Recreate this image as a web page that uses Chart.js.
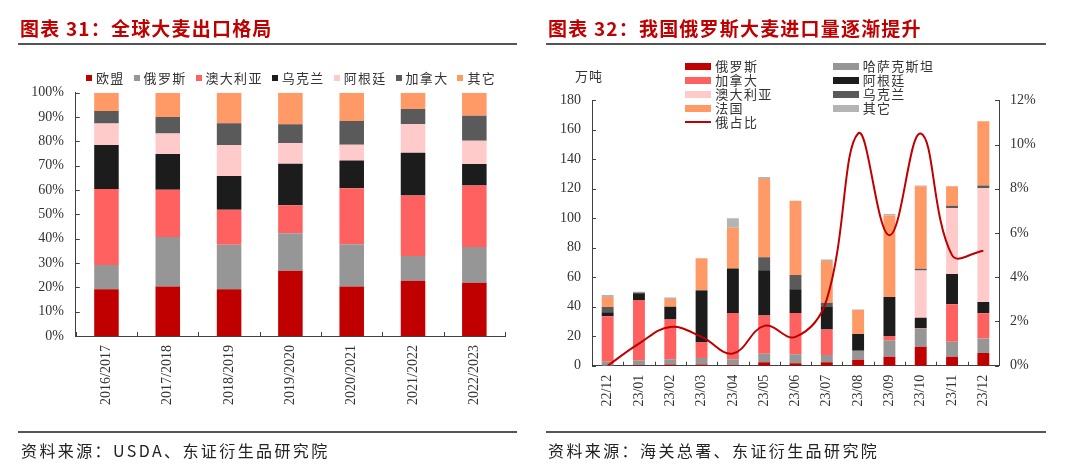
<!DOCTYPE html>
<html>
<head>
<meta charset="utf-8">
<script src="https://cdn.jsdelivr.net/npm/chart.js@4.4.0/dist/chart.umd.min.js"></script>
<style>
  body { margin: 0; background: #fff; }
  #page { position: relative; width: 1080px; height: 471px; overflow: hidden; background: #fff;
          font-family: "Noto Sans CJK SC", sans-serif; }
  canvas { position: absolute; top: 0; }
  .title { position: absolute; top: 14px; font-size: 19px; font-weight: bold; color: #c00000; letter-spacing: 1.2px; white-space: nowrap; }
  .rule { position: absolute; height: 2px; background: #555; }
  .source { position: absolute; top: 438px; font-size: 16px; color: #222; letter-spacing: 2.4px; white-space: nowrap; }
  .leg { position: absolute; font-size: 13px; color: #333; letter-spacing: 1.3px; white-space: nowrap; line-height: 14px; }
  .leg .sw { display: inline-block; vertical-align: middle; margin-right: 4px; margin-top: -2px; }
  #legL { top: 71px; left: 86px; display: flex; gap: 9px; }
  #legL .sw { width: 6px; height: 6px; }
  #legR .sw { width: 26px; height: 7px; }
  #legR .item { position: absolute; }
  #unit { position: absolute; left: 575px; top: 66px; font-size: 13px; color: #333; letter-spacing: 1px; }
</style>
</head>
<body>
<div id="page">
  <canvas id="left" width="540" height="471" style="left:0"></canvas>
  <canvas id="right" width="540" height="471" style="left:540px"></canvas>

  <div class="title" style="left:20px">图表 31：全球大麦出口格局</div>
  <div class="rule" style="left:18px;top:43px;width:499px"></div>
  <div class="title" style="left:548px">图表 32：我国俄罗斯大麦进口量逐渐提升</div>
  <div class="rule" style="left:546px;top:43px;width:500px"></div>

  <div id="legL" class="leg"></div>
  <div id="legR" class="leg"></div>
  <div id="unit">万吨</div>

  <div class="rule" style="left:18px;top:431px;width:499px;height:1.5px"></div>
  <div class="source" style="left:21px">资料来源：USDA、东证衍生品研究院</div>
  <div class="rule" style="left:546px;top:431px;width:500px;height:1.5px"></div>
  <div class="source" style="left:548px">资料来源：海关总署、东证衍生品研究院</div>
</div>

<script>
// ---- 图表31 数据（%）----
const years = ['2016/2017', '2017/2018', '2018/2019', '2019/2020', '2020/2021', '2021/2022', '2022/2023'];
const euShare = [19.2, 20.3, 19.2, 26.8, 20.3, 22.7, 21.9];
const russiaShare = [10.0, 20.4, 18.3, 15.4, 17.4, 10.2, 14.7];
const australiaShare = [31.2, 19.4, 14.4, 11.5, 23.0, 24.8, 25.3];
const ukraineShare = [18.1, 14.7, 13.9, 17.1, 11.4, 17.6, 8.8];
const argentinaShare = [8.8, 8.4, 12.7, 8.5, 6.5, 11.8, 9.6];
const canadaShare = [5.2, 6.8, 8.9, 7.7, 9.8, 6.2, 10.2];
const otherShare = [7.5, 10.0, 12.6, 13.0, 11.6, 6.7, 9.5];

// ---- 图表32 数据（万吨 / %）----
const months = ['22/12', '23/01', '23/02', '23/03', '23/04', '23/05', '23/06', '23/07', '23/08', '23/09', '23/10', '23/11', '23/12'];
const impRussia = [0, 0.5, 0.8, 0.8, 0.5, 2.3, 1.6, 2.3, 4.1, 6.1, 12.9, 6.1, 8.6];
const impKazakhstan = [2.7, 3.2, 3.6, 4.4, 3.8, 5.8, 6.1, 4.9, 6.1, 11.1, 12.2, 10.2, 9.9];
const impCanada = [30.8, 40.9, 26.9, 10.9, 31.4, 26.0, 28.0, 17.4, 0, 2.9, 0.3, 25.3, 17.0];
const impArgentina = [2.7, 4.5, 8.6, 34.8, 30.3, 30.6, 16.1, 15.2, 11.3, 26.5, 7.2, 20.6, 7.7];
const impAustralia = [0, 0, 0, 0, 0, 0, 0, 0, 0, 0, 31.9, 44.8, 77.1];
const impUkraine = [3.6, 0.5, 0, 0.4, 0, 8.8, 9.7, 2.9, 0, 0, 1.2, 1.5, 2.0];
const impFrance = [6.8, 0, 5.4, 21.5, 27.6, 53.1, 50.4, 28.3, 16.3, 55.2, 56.0, 13.2, 43.5];
const impOther = [1.3, 0.5, 0.9, 0, 6.4, 1.4, 0, 1.1, 0.4, 1.1, 0.5, 0, 0];
const russiaRatio = [0, 1.0, 1.75, 1.3, 0.55, 1.8, 1.3, 3.0, 10.5, 5.9, 10.5, 5.0, 5.2];

const C = {
  red: '#c00000', gray: '#969696', salmon: '#ff6161', black: '#1c1c1c',
  pink: '#ffcaca', dark: '#5a5a5a', orange: '#ff9966', light: '#b4b4b4'
};
const axisColor = '#404040';
const serif = 'Liberation Serif';

// 内向刻度线
const innerTicks = {
  id: 'innerTicks',
  afterDraw(chart) {
    const ctx = chart.ctx, a = chart.chartArea, s = chart.scales;
    ctx.save();
    ctx.strokeStyle = axisColor;
    ctx.lineWidth = 1;
    ctx.beginPath();
    s.y.ticks.forEach((t, i) => {
      const py = Math.round(s.y.getPixelForTick(i)) + 0.5;
      ctx.moveTo(a.left, py); ctx.lineTo(a.left + 4, py);
    });
    if (s.y1) {
      s.y1.ticks.forEach((t, i) => {
        const py = Math.round(s.y1.getPixelForTick(i)) + 0.5;
        ctx.moveTo(a.right, py); ctx.lineTo(a.right - 4, py);
      });
    }
    const n = s.x.ticks.length;
    for (let i = 0; i <= n; i++) {
      const px = Math.round(s.x.getPixelForValue(i - 0.5)) + 0.5;
      ctx.moveTo(px, a.bottom); ctx.lineTo(px, a.bottom - 4);
    }
    ctx.stroke();
    ctx.restore();
  }
};

function bar(label, data, color) {
  return { label, data, backgroundColor: color, borderWidth: 0, order: 1 };
}

function xScale(height) {
  return {
    stacked: true,
    grid: { display: false, drawTicks: false },
    border: { color: axisColor, width: 1 },
    ticks: { font: { family: serif, size: 14 }, color: '#333', minRotation: 90, maxRotation: 90, padding: 9, autoSkip: false },
    afterFit: s => { s.height = height; }
  };
}

// ---- 左图 ----
const leftSets = [
  bar('欧盟', euShare, C.red),
  bar('俄罗斯', russiaShare, C.gray),
  bar('澳大利亚', australiaShare, C.salmon),
  bar('乌克兰', ukraineShare, C.black),
  bar('阿根廷', argentinaShare, C.pink),
  bar('加拿大', canadaShare, C.dark),
  bar('其它', otherShare, C.orange)
];

new Chart(document.getElementById('left'), {
  type: 'bar',
  data: { labels: years, datasets: leftSets },
  options: {
    responsive: false,
    animation: false,
    datasets: { bar: { categoryPercentage: 1, barPercentage: 0.4 } },
    layout: { padding: { top: 92.7, right: 35, left: 0, bottom: 0 } },
    plugins: { legend: { display: false }, tooltip: { enabled: false } },
    scales: {
      x: xScale(135),
      y: {
        stacked: true, min: 0, max: 100,
        grid: { display: false, drawTicks: false },
        border: { color: axisColor, width: 1 },
        ticks: { stepSize: 10, callback: v => v + '%', font: { family: serif, size: 14 }, color: '#333', padding: 12 },
        afterFit: s => { s.width = 75.8; }
      }
    }
  },
  plugins: [innerTicks]
});

// ---- 右图 ----
const rightSets = [
  bar('俄罗斯', impRussia, C.red),
  bar('哈萨克斯坦', impKazakhstan, C.gray),
  bar('加拿大', impCanada, C.salmon),
  bar('阿根廷', impArgentina, C.black),
  bar('澳大利亚', impAustralia, C.pink),
  bar('乌克兰', impUkraine, C.dark),
  bar('法国', impFrance, C.orange),
  bar('其它', impOther, C.light),
  {
    type: 'line', label: '俄占比', data: russiaRatio, yAxisID: 'y1', stack: 'ratio',
    borderColor: C.red, borderWidth: 2, pointRadius: 0, tension: 0.4, fill: false, order: 0
  }
];

new Chart(document.getElementById('right'), {
  type: 'bar',
  data: { labels: months, datasets: rightSets },
  options: {
    responsive: false,
    animation: false,
    datasets: { bar: { categoryPercentage: 1, barPercentage: 0.38 } },
    layout: { padding: { top: 100.3, right: 0, left: 0, bottom: 0 } },
    plugins: { legend: { display: false }, tooltip: { enabled: false } },
    scales: {
      x: xScale(105.3),
      y: {
        stacked: true, min: 0, max: 180,
        grid: { display: false, drawTicks: false },
        border: { color: axisColor, width: 1 },
        ticks: { stepSize: 20, font: { family: serif, size: 14 }, color: '#333', padding: 11 },
        afterFit: s => { s.width = 52; }
      },
      y1: {
        position: 'right', stacked: false, min: 0, max: 12,
        grid: { display: false, drawTicks: false },
        border: { color: axisColor, width: 1 },
        ticks: { stepSize: 2, callback: v => v + '%', font: { family: serif, size: 14 }, color: '#333', padding: 11 },
        afterFit: s => { s.width = 81; }
      }
    }
  },
  plugins: [innerTicks]
});

// ---- 图例 ----
const legL = document.getElementById('legL');
leftSets.forEach(d => {
  const el = document.createElement('span');
  el.innerHTML = '<span class="sw" style="background:' + d.backgroundColor + '"></span>' + d.label;
  legL.appendChild(el);
});

const legR = document.getElementById('legR');
const rowY = [59, 73, 87, 101, 115];
rightSets.forEach((d, i) => {
  const el = document.createElement('div');
  el.className = 'item';
  const col = d.type === 'line' ? 0 : i % 2;
  const row = d.type === 'line' ? 4 : Math.floor(i / 2);
  el.style.left = (col ? 832.7 : 685.3) + 'px';
  el.style.top = rowY[row] + 'px';
  const sw = d.type === 'line'
    ? '<span class="sw" style="height:2px;background:' + d.borderColor + '"></span>'
    : '<span class="sw" style="background:' + d.backgroundColor + '"></span>';
  el.innerHTML = sw + d.label;
  legR.appendChild(el);
});
</script>
</body>
</html>
